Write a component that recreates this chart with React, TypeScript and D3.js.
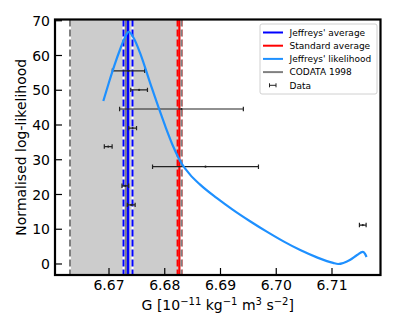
import React from "react";
import * as d3 from "d3";

// ---- data ----
const xTicks = [6.67, 6.68, 6.69, 6.7, 6.71];
const yTicks = [0, 10, 20, 30, 40, 50, 60, 70];

// Jeffreys' likelihood curve (G, normalised log-likelihood)
const curveG = [6.66898, 6.67, 6.671, 6.672, 6.6728, 6.67355, 6.6745, 6.6756, 6.6774, 6.6789, 6.6802, 6.6815, 6.683, 6.6845, 6.6863, 6.6893, 6.6923, 6.6953, 6.6983, 6.7013, 6.7043, 6.7073, 6.7102, 6.7111, 6.7132, 6.7145, 6.71551, 6.7159, 6.7162];
const curveL = [46.9, 52.3, 57.3, 61.8, 65.0, 66.8, 64.8, 60.6, 52.0, 45.0, 39.2, 33.9, 29.0, 25.8, 22.9, 19.0, 15.5, 12.3, 9.3, 6.5, 4.0, 1.9, 0.3, 0.0, 1.15, 2.6, 3.5, 3.0, 2.0];

// Data points with horizontal error bars
const dataG = [6.6735, 6.6754, 6.683, 6.67424, 6.66986, 6.68731, 6.67293, 6.67399, 6.71552];
const dataErr = [0.0029, 0.0015, 0.0111, 0.0007, 0.0007, 0.0095, 0.0006, 0.0007, 0.0006];
const dataY = [55.6, 50.1, 44.6, 39.1, 33.8, 28.0, 22.5, 17.0, 11.2];

// Averages
const codataCenter = 6.673;
const codataBand = [6.663, 6.683];
const jeffreysAvg = 6.67341;
const jeffreysBand = [6.6726, 6.67422];
const standardAvg = 6.6827;
const standardBand = [6.6823, 6.6831];

const legendLabels = ["Jeffreys' average", "Standard average", "Jeffreys' likelihood", "CODATA 1998", "Data"];
const legendColors = ["#0000ff", "#ff0000", "#1e90ff", "#808080", "#000000"];

const W = 397, H = 331;
const left = 55, right = 380.5, top = 19.5, bottom = 275;

export default function App() {
  const x = d3.scaleLinear().domain([6.660314, 6.7187]).range([left, right]);
  const y = d3.scaleLinear().domain([-3.17, 70.36]).range([bottom, top]);
  const line = d3
    .line<number>()
    .x((_, i) => x(curveG[i]))
    .y((d) => y(d))
    .curve(d3.curveMonotoneX);
  const font = "DejaVu Sans, sans-serif";

  const vline = (g: number, color: string, w: number, dashed: boolean, under: boolean, key: string) => (
    <g key={key}>
      {dashed && under && <line x1={x(g)} x2={x(g)} y1={top} y2={bottom} stroke="#ffffff" strokeWidth={w} />}
      <line x1={x(g)} x2={x(g)} y1={top} y2={bottom} stroke={color} strokeWidth={w} strokeDasharray={dashed ? "7,3" : undefined} />
    </g>
  );

  const legRowY = (i: number) => 32.5 + i * 13.2;

  return (
    <svg width={W} height={H} style={{ position: "absolute", left: 0, top: 0 }} fontFamily={font}>
      <rect x={0} y={0} width={W} height={H} fill="#ffffff" />
      <defs>
        <clipPath id="plotclip">
          <rect x={left} y={top} width={right - left} height={bottom - top} />
        </clipPath>
      </defs>
      <g clipPath="url(#plotclip)">
        <rect x={x(codataBand[0])} y={top} width={x(codataBand[1]) - x(codataBand[0])} height={bottom - top} fill="#cccccc" />
        {vline(codataCenter, "#808080", 2, false, false, "cc")}
        {vline(standardAvg, "#ff0000", 3, false, false, "sa")}
        {standardBand.map((g, i) => vline(g, "#ff0000", 2, true, false, "sb" + i))}
        {codataBand.map((g, i) => vline(g, "#808080", 2, true, true, "cb" + i))}
        {vline(jeffreysAvg, "#0000ff", 2.5, false, false, "ja")}
        {jeffreysBand.map((g, i) => vline(g, "#0000ff", 2, true, true, "jb" + i))}
        {dataG.map((g, i) => {
          const x0 = x(g - dataErr[i]), x1 = x(g + dataErr[i]), yy = y(dataY[i]);
          return (
            <g key={"d" + i} stroke="#222" strokeWidth={1.2}>
              <line x1={x0} x2={x1} y1={yy} y2={yy} />
              <line x1={x0} x2={x0} y1={yy - 2.2} y2={yy + 2.2} />
              <line x1={x1} x2={x1} y1={yy - 2.2} y2={yy + 2.2} />
              <circle cx={x(g)} cy={yy} r={1.1} fill="#222" stroke="none" />
            </g>
          );
        })}
        <path d={line(curveL) || ""} fill="none" stroke="#1e90ff" strokeWidth={2.2} />
      </g>

      {/* ticks */}
      {xTicks.map((t) => (
        <g key={"xt" + t}>
          <line x1={x(t)} x2={x(t)} y1={bottom} y2={bottom - 7} stroke="#000" strokeWidth={1.2} />
          <text x={x(t)} y={290} textAnchor="middle" fontSize={14}>{t.toFixed(2)}</text>
        </g>
      ))}
      {yTicks.map((t) => (
        <g key={"yt" + t}>
          <line x1={left} x2={left + 7} y1={y(t)} y2={y(t)} stroke="#000" strokeWidth={1.2} />
          <text x={50} y={y(t) + 5.1} textAnchor="end" fontSize={14}>{t}</text>
        </g>
      ))}
      <rect x={left} y={top} width={right - left} height={bottom - top} fill="none" stroke="#000" strokeWidth={2.2} />

      {/* axis labels */}
      <text x={(left + right) / 2} y={310} textAnchor="middle" fontSize={14}>
        G [10<tspan dy={-5} fontSize={10}>−11</tspan><tspan dy={5}> kg</tspan>
        <tspan dy={-5} fontSize={10}>−1</tspan><tspan dy={5}> m</tspan>
        <tspan dy={-5} fontSize={10}>3</tspan><tspan dy={5}> s</tspan>
        <tspan dy={-5} fontSize={10}>−2</tspan><tspan dy={5}>]</tspan>
      </text>
      <text transform={`translate(26,${(top + bottom) / 2}) rotate(-90)`} textAnchor="middle" fontSize={14}>
        Normalised log-likelihood
      </text>

      {/* legend */}
      <rect x={260} y={24} width={117} height={70} rx={2} fill="#ffffff" fillOpacity={0.9} stroke="#d0d0d0" strokeWidth={1} />
      {legendLabels.map((lab, i) => {
        const yy = legRowY(i);
        return (
          <g key={"lg" + i}>
            {i < 4 ? (
              <line x1={263} x2={283} y1={yy} y2={yy} stroke={legendColors[i]} strokeWidth={2} />
            ) : (
              <g stroke="#222" strokeWidth={1}>
                <line x1={269.5} x2={276} y1={yy} y2={yy} />
                <line x1={269.5} x2={269.5} y1={yy - 2} y2={yy + 2} />
                <line x1={276} x2={276} y1={yy - 2} y2={yy + 2} />
              </g>
            )}
            <text x={289.5} y={yy + 3.2} fontSize={9}>{lab}</text>
          </g>
        );
      })}
    </svg>
  );
}
